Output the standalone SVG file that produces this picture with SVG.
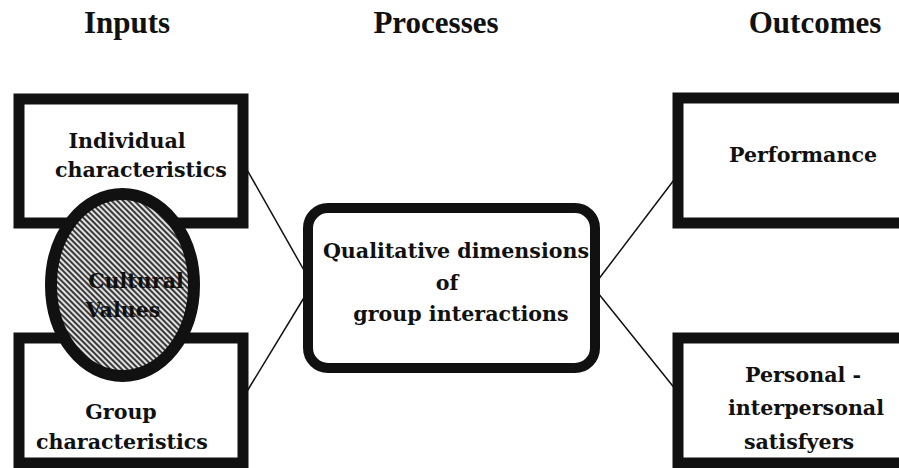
<svg xmlns="http://www.w3.org/2000/svg" width="899" height="468" viewBox="0 0 899 468">
  <style>
    .head { font-family: "Liberation Serif", "Times New Roman", serif; font-weight: bold; font-size: 31px; fill: #111; text-anchor: middle; }
    .lbl { font-family: "DejaVu Serif", "Liberation Serif", serif; font-weight: bold; font-size: 20.6px; fill: #111; text-anchor: middle; }
    .box { fill: #fff; stroke: #111; stroke-width: 11; }
    .proc { fill: #fff; stroke: #111; stroke-width: 10; }
    .link { stroke: #111; stroke-width: 1.5; fill: none; }
  </style>
  <defs>
    <!-- diagonal hatching used inside the cultural-values ellipse -->
    <pattern id="hatch" patternUnits="userSpaceOnUse" width="4" height="4" patternTransform="rotate(-45)">
      <rect width="4" height="4" fill="#e2e2e2"/>
      <rect width="2" height="4" fill="#3a3a3a"/>
    </pattern>
  </defs>
  <rect width="899" height="468" fill="#fff"/>

  <!-- column headings -->
  <g id="headings">
    <text class="head" x="127" y="33">Inputs</text>
    <text class="head" x="436" y="33">Processes</text>
    <text class="head" x="815" y="33">Outcomes</text>
  </g>

  <!-- connectors -->
  <g id="connectors">
    <line class="link" x1="246" y1="168" x2="305" y2="272"/>
    <line class="link" x1="305" y1="296" x2="246" y2="393"/>
    <line class="link" x1="598" y1="280" x2="680" y2="172"/>
    <line class="link" x1="598" y1="293" x2="680" y2="395"/>
  </g>

  <g id="individual">
    <rect class="box" x="19" y="99" width="224" height="124"/>
    <text class="lbl" x="127" y="148">Individual</text>
    <text class="lbl" x="141" y="177">characteristics</text>
  </g>

  <g id="group">
    <rect class="box" x="19" y="338" width="224" height="125"/>
    <text class="lbl" x="121" y="419">Group</text>
    <text class="lbl" x="122" y="449">characteristics</text>
  </g>

  <g id="cultural-values">
    <ellipse cx="122.5" cy="285" rx="71.5" ry="91" fill="url(#hatch)" stroke="#111" stroke-width="12"/>
    <text class="lbl" x="136" y="288">Cultural</text>
    <text class="lbl" x="123" y="317">Values</text>
  </g>

  <g id="process">
    <rect class="proc" x="308" y="208" width="287" height="160" rx="20"/>
    <text class="lbl" x="456" y="258">Qualitative dimensions</text>
    <text class="lbl" x="447" y="290">of</text>
    <text class="lbl" x="461" y="321">group interactions</text>
  </g>

  <g id="performance">
    <rect class="box" x="678" y="98" width="240" height="125"/>
    <text class="lbl" x="803" y="162">Performance</text>
  </g>

  <g id="satisfyers">
    <rect class="box" x="678" y="338" width="240" height="125"/>
    <text class="lbl" x="803" y="382">Personal -</text>
    <text class="lbl" x="806" y="415">interpersonal</text>
    <text class="lbl" x="799" y="449">satisfyers</text>
  </g>
</svg>
